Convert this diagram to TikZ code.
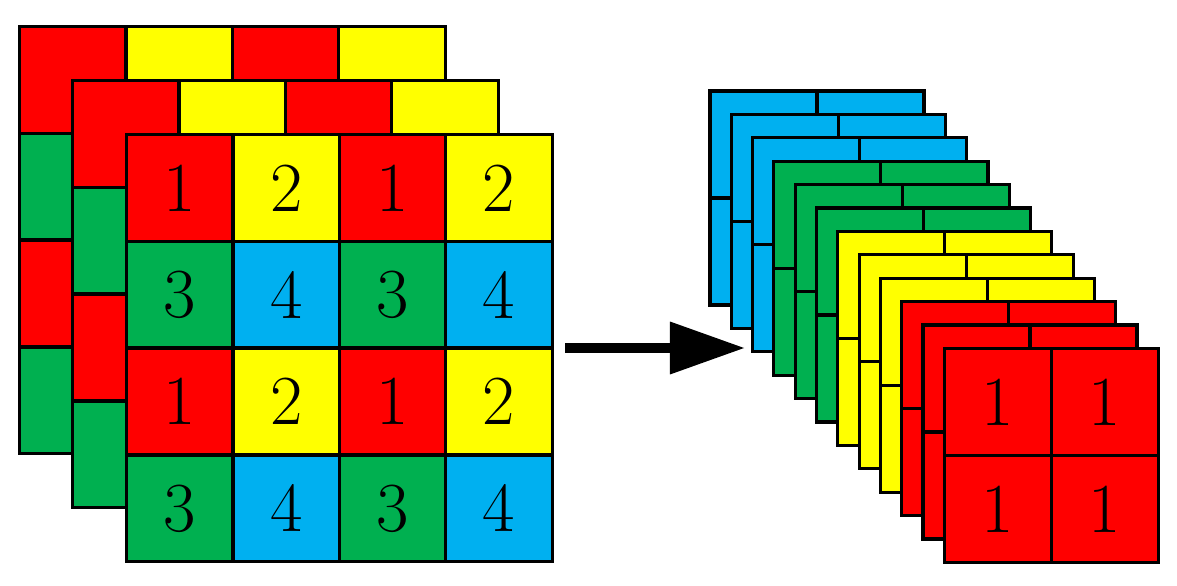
\documentclass[tikz,border=0pt]{standalone}
\usetikzlibrary{arrows.meta}
\definecolor{cred}{RGB}{255,0,0}
\definecolor{cyel}{RGB}{255,255,0}
\definecolor{cgrn}{RGB}{0,176,80}
\definecolor{cblu}{RGB}{0,176,240}
\tikzset{
    cell/.style={draw=black, line width=0.9pt, minimum size=1.065cm, inner sep=0pt, outer sep=0pt,
        font=\fontsize{20}{20}\selectfont},
    small/.style={cell, minimum size=1.07cm}
}
\begin{document}
\begin{tikzpicture}[x=0.01cm, y=-0.01cm]
    \useasboundingbox (0,0) rectangle (1177,586);
    % Input layers, back to front
    \foreach \l/\ox/\oy in {1/20/27, 2/73/81, 3/127/135} {
            \foreach \r in {0,...,3} {
                    \foreach \c in {0,...,3} {
                            \pgfmathtruncatemacro{\k}{mod(\r,2)*2+mod(\c,2)+1}
                            \ifcase\k\or\def\col{cred}\or\def\col{cyel}\or\def\col{cgrn}\or\def\col{cblu}\fi
                            \ifnum\l=3 \def\txt{\k}\else\def\txt{}\fi
                            \node[cell, fill=\col] (L\l-\r-\c) at ({\ox+106.3*\c+53}, {\oy+106.8*\r+53}) {\txt};
                        }
                }
        }
    % Output layers, back to front
    \foreach \i/\col in {0/cblu,1/cblu,2/cblu,3/cgrn,4/cgrn,5/cgrn,6/cyel,7/cyel,8/cyel,9/cred,10/cred,11/cred} {
            \foreach \r in {0,1} {
                    \foreach \c in {0,1} {
                            \ifnum\i=11 \def\txt{1}\else\def\txt{}\fi
                            \node[small, fill=\col] (R\i-\r-\c) at ({710+21.3*\i+107*\c+53.5}, {91+23.4*\i+107*\r+53.5}) {\txt};
                        }
                }
        }
    % Arrow
    \coordinate (arrs) at (565,348);
    \coordinate (arre) at (745,348);
    \draw[line width=0.1cm, -{Triangle[length=0.75cm, width=0.5cm]}] (arrs) -- (arre);
\end{tikzpicture}
\end{document}
